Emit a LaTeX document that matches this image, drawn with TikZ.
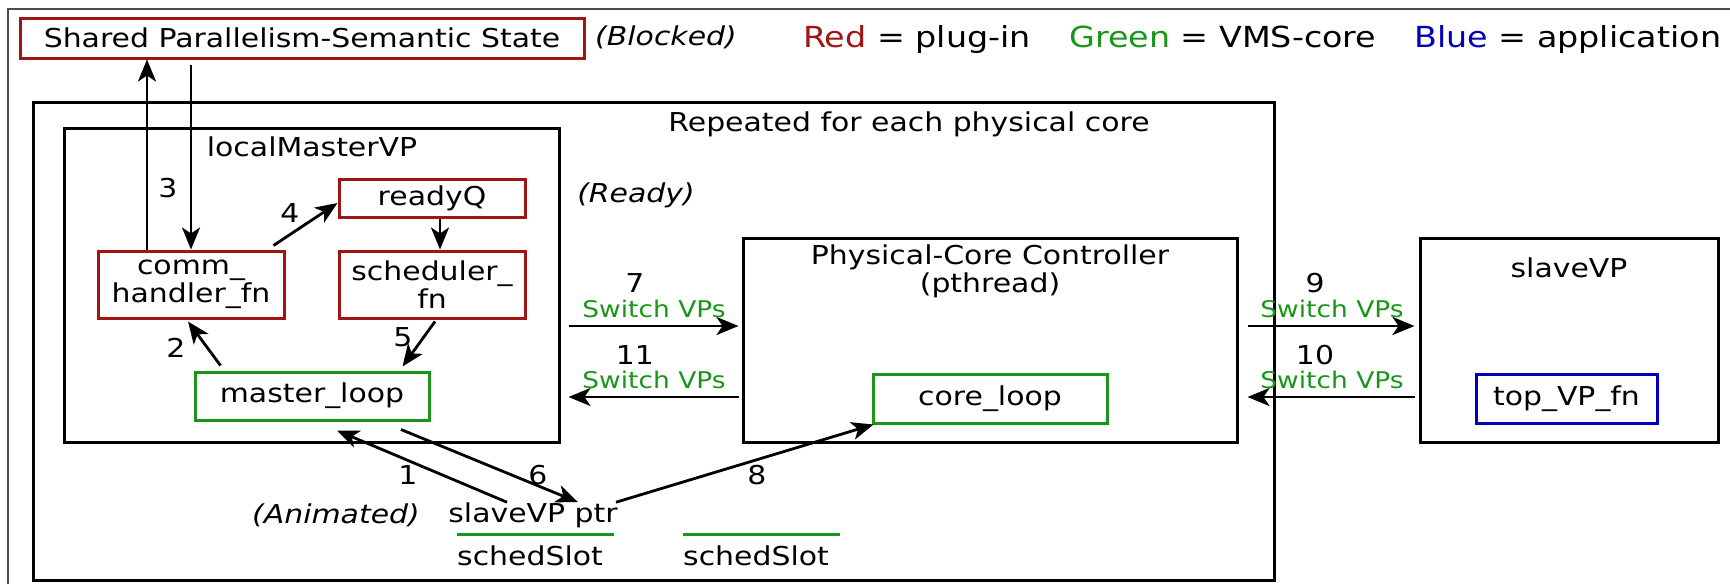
\documentclass[tikz,border=0pt]{standalone}
\usepackage{fontspec}
\setmainfont{DejaVu Sans}[FakeStretch=1.15]
\usetikzlibrary{arrows.meta,calc}
\definecolor{plugred}{RGB}{160,20,20}
\definecolor{coregreen}{RGB}{25,150,25}
\definecolor{appblue}{RGB}{0,0,185}
\tikzset{
  box/.style={draw, line width=3pt, inner sep=0pt, align=center, font=\fontsize{26}{28}\selectfont},
  redbox/.style={box, draw=plugred},
  greenbox/.style={box, draw=coregreen},
  bluebox/.style={box, draw=appblue},
  txt/.style={inner sep=0pt, align=center, font=\fontsize{26}{28}\selectfont},
  sw/.style={inner sep=0pt, text=coregreen, font=\fontsize{23}{25}\selectfont},
  leg/.style={inner sep=0pt, anchor=base west, font=\fontsize{29}{31}\selectfont},
  arr/.style={line width=2.8pt, -{Stealth[length=22pt,width=18pt,inset=6pt]}},
}
\begin{document}
\begin{tikzpicture}[x=1pt,y=-1pt]
\useasboundingbox (0,0) rectangle (1730,584);
% outer thin frame
\draw[line width=1.2pt, black!70] (8,584) -- (8,9) -- (1730,9);

% top row
\node[redbox, minimum width=564pt, minimum height=40pt] (shared) at (302,38) {Shared Parallelism-Semantic State};
\node[txt, font=\fontsize{26}{28}\selectfont\itshape] (blocked) at (666,37) {(Blocked)};
\node[leg] (legr) at (803,47) {\textcolor{plugred}{Red} = plug-in};
\node[leg] (legg) at (1069,47) {\textcolor{coregreen}{Green} = VMS-core};
\node[leg] (legb) at (1414,47) {\textcolor{appblue}{Blue} = application};

% repeated container
\node[box, minimum width=1241pt, minimum height=478pt] (rep) at (653.5,341) {};
\node[txt] (reptitle) at (909,124) {Repeated for each physical core};

% localMasterVP
\node[box, minimum width=495pt, minimum height=314pt] (lm) at (311.5,285) {};
\node[txt] (lmtitle) at (312,147) {localMasterVP};
\node[redbox, minimum width=186pt, minimum height=38pt] (ready) at (432,198) {readyQ};
\node[redbox, minimum width=186pt, minimum height=67pt] (comm) at (191,284.5) {comm\_\\handler\_fn};
\node[redbox, minimum width=186pt, minimum height=67pt] (sched) at (432,284.5) {scheduler\_\\fn};
\node[greenbox, minimum width=234pt, minimum height=48pt] (master) at (312,396) {master\_loop};
\node[txt, font=\fontsize{26}{28}\selectfont\itshape] (readylbl) at (636,195) {(Ready)};

% physical core controller
\node[box, minimum width=494pt, minimum height=204pt] (pcc) at (990,340) {};
\node[txt] (pcctitle) at (990,271) {Physical-Core Controller\\(pthread)};
\node[greenbox, minimum width=234pt, minimum height=49pt] (core) at (990,398.5) {core\_loop};

% slaveVP
\node[box, minimum width=298pt, minimum height=204pt] (slave) at (1569,340) {};
\node[txt] (slavetitle) at (1569,268) {slaveVP};
\node[bluebox, minimum width=181pt, minimum height=49pt] (top) at (1566.5,398.5) {top\_VP\_fn};

% bottom slot area
\node[txt, minimum height=24pt] (ptr) at (533,515) {slaveVP ptr};
\node[txt, font=\fontsize{26}{28}\selectfont\itshape] (anim) at (336,515) {(Animated)};
\coordinate (s1a) at (457,534);
\coordinate (s1b) at (614,534);
\coordinate (s2a) at (683,534);
\coordinate (s2b) at (840,534);
\draw[line width=3pt, coregreen] (s1a) -- (s1b);
\draw[line width=3pt, coregreen] (s2a) -- (s2b);
\node[txt, anchor=west] (slot1) at (457,556) {schedSlot};
\node[txt, anchor=west] (slot2) at (683,556) {schedSlot};

% arrows 3 (up/down to shared state)
\draw[arr] ([xshift=-44pt]comm.north) -- ([xshift=-44pt]comm.north |- shared.south);
\draw[arr] ([yshift=-5pt]comm.north |- shared.south) -- (comm.north);
\node[txt] (n3) at (168,188) {3};
% 4
\draw[arr] ([xshift=-12pt,yshift=4pt]comm.north east) -- ([yshift=-5pt]ready.west);
\node[txt] (n4) at (290,213) {4};
% readyQ -> scheduler
\draw[arr] ([xshift=8pt]ready.south) -- ([xshift=8pt]sched.north);
% 2
\draw[arr] ([xshift=27pt,yshift=5pt]master.north west) -- ([xshift=-3pt,yshift=-2pt]comm.south);
\node[txt] (n2) at (176,348) {2};
% 5
\draw[arr] ([xshift=3pt,yshift=-2pt]sched.south) -- ([xshift=-28pt,yshift=4pt]master.north east);
\node[txt] (n5) at (403,337) {5};

% switch arrows
\coordinate (row7) at (0,326);
\coordinate (row11) at (0,397);
\draw[arr] ([xshift=8pt]lm.east |- row7) -- ([xshift=-3pt]pcc.west |- row7);
\draw[arr] ([xshift=-3pt]pcc.west |- row11) -- ([xshift=8pt]lm.east |- row11);
\draw[arr] ([xshift=9pt]pcc.east |- row7) -- ([xshift=-4pt]slave.west |- row7);
\draw[arr] ([xshift=-4pt]slave.west |- row11) -- ([xshift=9pt]pcc.east |- row11);
\node[txt] (n7) at (635,283) {7};
\node[sw] (sw7) at (654,309) {Switch VPs};
\node[txt] (n11) at (635,355) {11};
\node[sw] (sw11) at (654,380) {Switch VPs};
\node[txt] (n9) at (1315,283) {9};
\node[sw] (sw9) at (1332,309) {Switch VPs};
\node[txt] (n10) at (1315,355) {10};
\node[sw] (sw10) at (1332,380) {Switch VPs};

% 1, 6, 8
\draw[arr] ([xshift=-26pt]ptr.north) -- ([xshift=25pt,yshift=-9pt]master.south);
\draw[arr] ([xshift=89pt,yshift=-8pt]master.south) -- ([xshift=45pt]ptr.north);
\draw[arr] ([xshift=83pt]ptr.north) -- ([xshift=2pt]core.south west);
\node[txt] (n1) at (408,475) {1};
\node[txt] (n6) at (538,475) {6};
\node[txt] (n8) at (757,475) {8};
\end{tikzpicture}
\end{document}
